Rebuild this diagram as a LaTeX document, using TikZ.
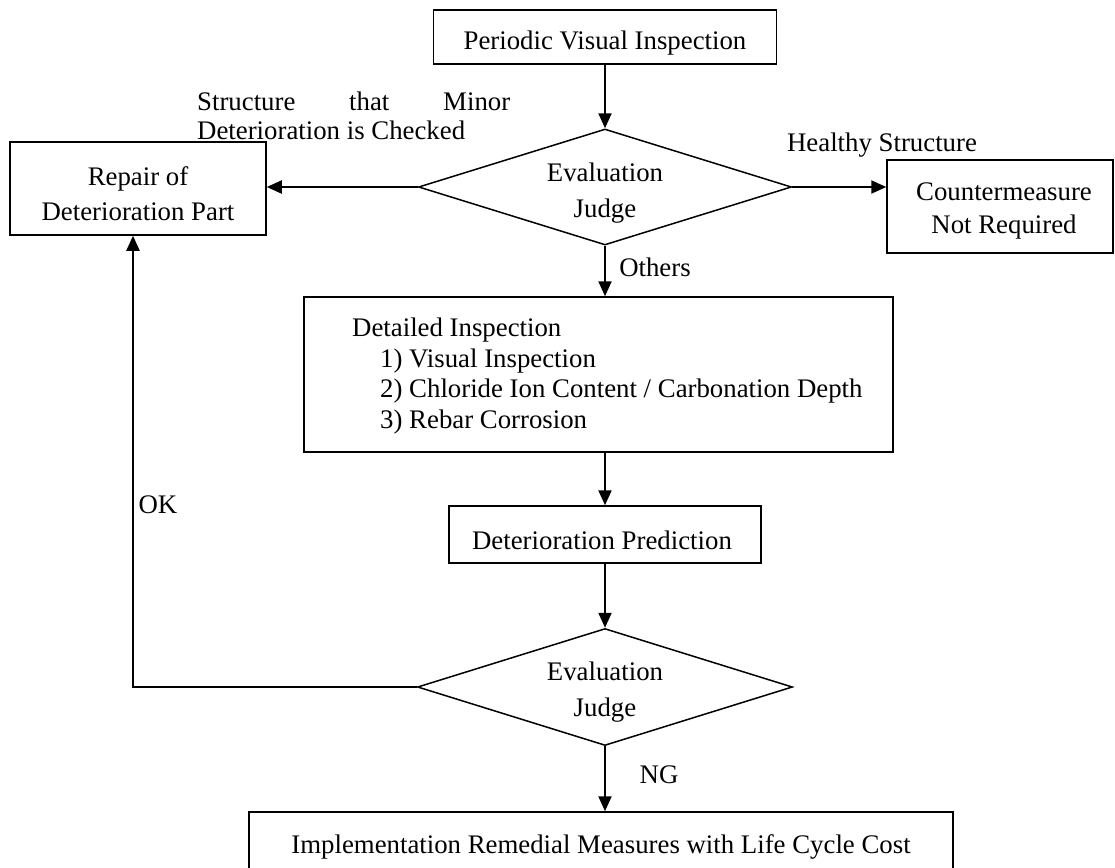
\documentclass[tikz,border=0pt]{standalone}
\usepackage{fontspec}
\setmainfont{Liberation Serif}
\usetikzlibrary{shapes.geometric,arrows.meta}
\begin{document}
\begin{tikzpicture}[x=1pt,y=-1pt,
  txt/.style={inner sep=0pt,align=center,font=\fontsize{26.8}{35}\selectfont},
  box/.style={draw,line width=1.5pt,inner sep=0pt},
  dec/.style={draw,diamond,line width=1.5pt,inner sep=0pt},
  arr/.style={line width=2.2pt,-{Triangle[length=15pt,width=13pt]}}]
\useasboundingbox (0,0) rectangle (1115,867);
% shapes
\node[box,minimum width=343pt,minimum height=54pt] (top) at (605,37) {};
\node[dec,minimum width=373pt,minimum height=116pt] (d1) at (605,187) {};
\node[box,minimum width=256pt,minimum height=93pt] (repair) at (138,188.5) {};
\node[box,minimum width=226pt,minimum height=93pt] (counter) at (1000,206.5) {};
\node[box,minimum width=589pt,minimum height=155pt] (detailed) at (598.5,374.5) {};
\node[box,minimum width=312pt,minimum height=57pt] (predict) at (605,534.5) {};
\node[dec,minimum width=375pt,minimum height=117pt] (d2) at (605,687) {};
\node[box,minimum width=704pt,minimum height=88pt] (bottom) at (601,856) {};
% texts inside shapes
\node[txt] (toptext) at (605,43) {Periodic Visual Inspection};
\node[txt,font=\fontsize{26.8}{36}\selectfont] (d1text) at (605,193) {Evaluation\\Judge};
\node[txt] (repairtext) at (138,194) {Repair of\\Deterioration Part};
\node[txt,font=\fontsize{26.8}{33}\selectfont] (countertext) at (1004,211) {Countermeasure\\Not Required};
\node[txt,align=left,anchor=north west,font=\fontsize{26.8}{30.5}\selectfont] (detailedtext) at (352,318)
  {Detailed Inspection\\
   \hspace*{28pt}1) Visual Inspection\\
   \hspace*{28pt}2) Chloride Ion Content / Carbonation Depth\\
   \hspace*{28pt}3) Rebar Corrosion};
\node[txt] (predicttext) at (602,540) {Deterioration Prediction};
\node[txt,font=\fontsize{26.8}{36}\selectfont] (d2text) at (605,692) {Evaluation\\Judge};
\node[txt] (bottomtext) at (601,847) {Implementation Remedial Measures with Life Cycle Cost};
% labels
\node[txt,align=left,anchor=north west,font=\fontsize{26.8}{29}\selectfont] (minor) at (197,92)
  {\makebox[313pt][s]{Structure that Minor}\\Deterioration is Checked};
\node[txt] (healthy) at (882,145) {Healthy Structure};
\node[txt] (others) at (655,267) {Others};
\node[txt] (ok) at (158,505) {OK};
\node[txt] (ng) at (659,775) {NG};
\coordinate (okc) at (133,687);
% connectors
\draw[arr] (top.south) -- (d1.north);
\draw[arr] (d1.west) -- (d1.west -| repair.east);
\draw[arr] (d1.east) -- (d1.east -| counter.west);
\draw[arr] (d1.south) -- (d1.south |- detailed.north);
\draw[arr] (detailed.south -| predict.north) -- (predict.north);
\draw[arr] (predict.south) -- (d2.north);
\draw[arr] (d2.south) -- (d2.south |- bottom.north);
\draw[arr] (d2.west) -- (okc) -- (okc |- repair.south);
\end{tikzpicture}
\end{document}
